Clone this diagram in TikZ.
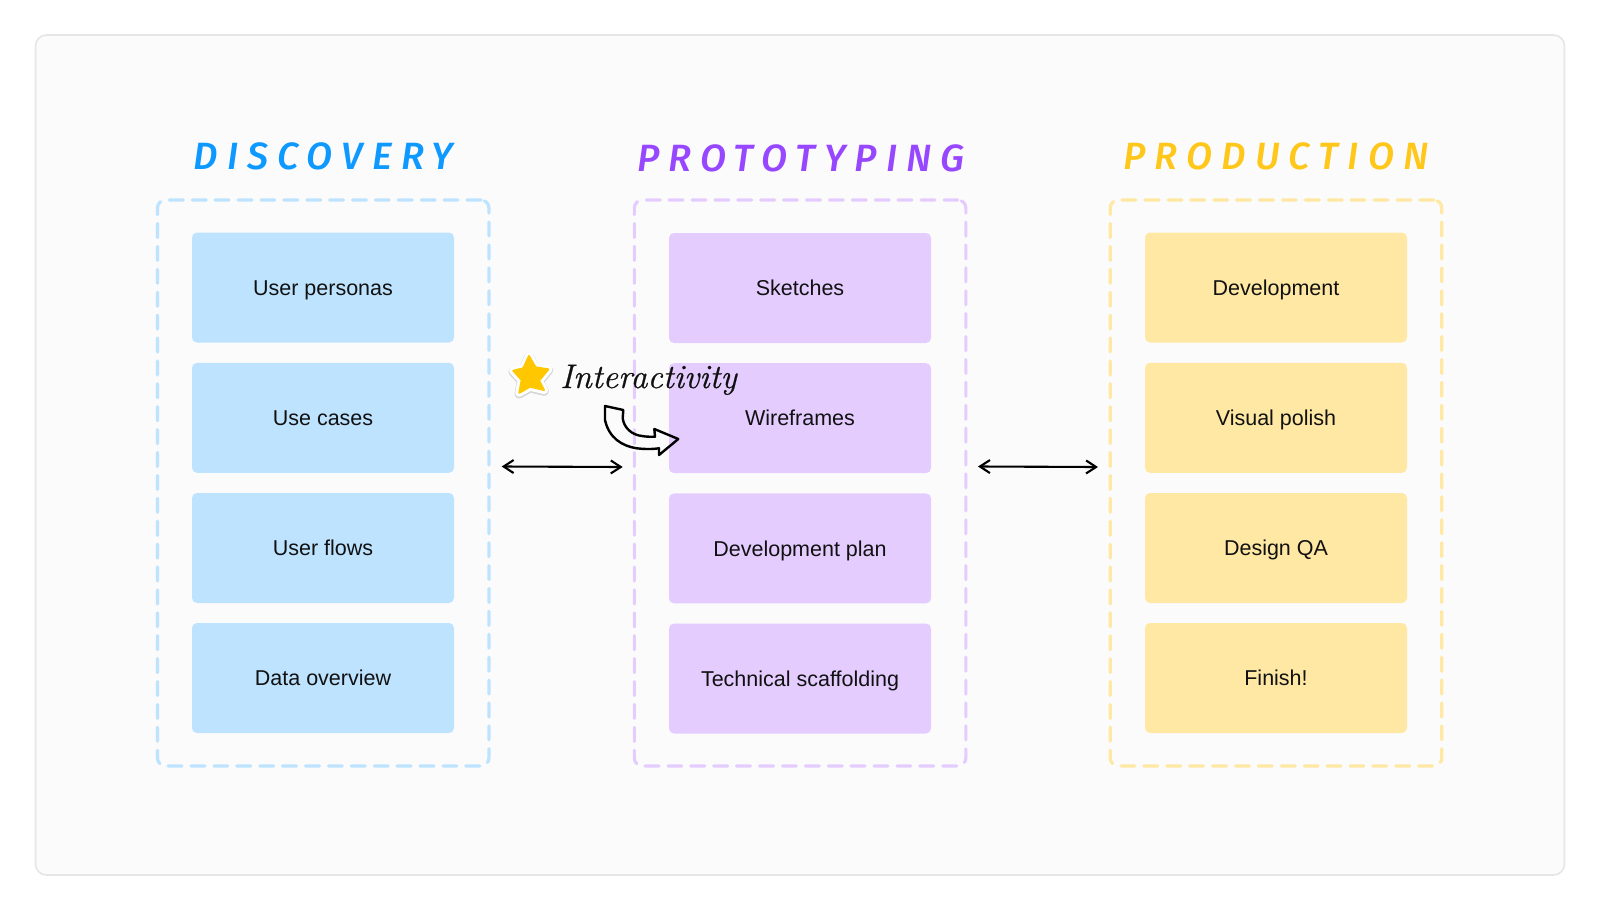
\documentclass[tikz,border=0pt]{standalone}
\usepackage{fontspec}
\usetikzlibrary{arrows.meta}
\setmainfont{Liberation Sans}
\newfontfamily\handfont[LetterSpace=24]{Fira Sans Medium}
\newfontfamily\notefont[ItalicFeatures={FakeBold=0.6}]{Latin Modern Roman}
\definecolor{panelbg}{HTML}{FBFBFB}
\definecolor{panelln}{HTML}{E6E6E6}
\definecolor{bluecard}{HTML}{BDE3FF}
\definecolor{violetcard}{HTML}{E4CCFF}
\definecolor{yellowcard}{HTML}{FFE8A3}
\definecolor{bluetitle}{HTML}{0D99FF}
\definecolor{violettitle}{HTML}{9747FF}
\definecolor{yellowtitle}{HTML}{FFC71A}
\definecolor{starfill}{HTML}{FFC700}
\definecolor{inkc}{HTML}{111111}
\tikzset{
  x=1pt,y=-1pt,
  panel/.style={draw=panelln,fill=panelbg,line width=1.6pt,rounded corners=11pt,minimum width=1529pt,minimum height=840pt,inner sep=0pt,outer sep=0pt},
  dashbox/.style={line width=3.2pt,line cap=round,dash pattern=on 14pt off 8.9pt,rounded corners=8pt,minimum width=331.5pt,minimum height=566pt,inner sep=0pt,outer sep=0pt},
  card/.style={rounded corners=5pt,minimum width=262pt,minimum height=110pt,inner sep=0pt,outer sep=0pt,text=inkc,text height=15.5pt,text depth=0pt,font=\fontsize{21.5}{25}\selectfont},
  heading/.style={inner sep=0pt,font=\handfont\itshape\fontsize{38}{42}\selectfont},
  link/.style={draw=black,line width=2.1pt,{Straight Barb[length=10pt,width=13pt]}-{Straight Barb[length=10pt,width=13pt]}},
  swoosh/.style={draw=black,line width=2.4pt,line join=round},
}
\begin{document}
\begin{tikzpicture}
\useasboundingbox (0,0) rectangle (1600,910);
\fill[white] (0,0) rectangle (1600,910);
\node[panel] (bg) at (800,455) {};

\node[dashbox,draw=bluecard]   (boxa) at (323.2,483) {};
\node[dashbox,draw=violetcard] (boxb) at (800.1,483) {};
\node[dashbox,draw=yellowcard] (boxc) at (1276,483) {};

\node[heading,text=bluetitle,anchor=base]   (ta) at (323.5,169) {DISCOVERY};
\node[heading,text=violettitle,anchor=base] (tb) at (801,171) {PROTOTYPING};
\node[heading,text=yellowtitle,anchor=base] (tc) at (1276,169) {PRODUCTION};

\node[card,fill=bluecard] (a1) at (323,287.5) {User personas};
\node[card,fill=bluecard] (a2) at (323,417.8) {Use cases};
\node[card,fill=bluecard] (a3) at (323,548) {User flows};
\node[card,fill=bluecard] (a4) at (323,678) {Data overview};

\node[card,fill=violetcard] (b1) at (800,288) {Sketches};
\node[card,fill=violetcard] (b2) at (800,418.2) {Wireframes};
\node[card,fill=violetcard] (b3) at (800,548.4) {Development plan};
\node[card,fill=violetcard] (b4) at (800,678.5) {Technical scaffolding};

\node[card,fill=yellowcard] (c1) at (1276,287.5) {Development};
\node[card,fill=yellowcard] (c2) at (1276,417.8) {Visual polish};
\node[card,fill=yellowcard] (c3) at (1276,548) {Design QA};
\node[card,fill=yellowcard] (c4) at (1276,678) {Finish!};

\coordinate (l1) at (501.7,466.5);
\coordinate (l2) at (622.7,467);
\coordinate (r1) at (978,466.5);
\coordinate (r2) at (1098,467);
\draw[link] (l1) -- (l2);
\draw[link] (r1) -- (r2);

% star sticker
\def\starpath{(529,356) -- (535.5,367.3) -- (548.3,369.3) -- (539,380.7) -- (544,390) -- (530,386.7) -- (519.3,392.7) -- (521.7,380) -- (513.3,370.7) -- (523.3,368.3) -- cycle}
\draw[black!16,line width=9.5pt,line join=round] [yshift=-1pt] \starpath;
\draw[white,line width=8pt,line join=round] \starpath;
\fill[starfill,draw=starfill,line width=2pt,line join=round] \starpath;

\node[anchor=base west,inner sep=0pt,text=inkc,font=\notefont\itshape\fontsize{34}{36}\selectfont] (note) at (560,388) {Interactivity};

\draw[swoosh] (605,406) -- (623.3,410) -- (622.7,418.3)
  .. controls (624,428) and (632,435) .. (642,436)
  .. controls (646,436.8) and (651,436.8) .. (655,436.7)
  -- (654.3,429) -- (678.3,439) -- (659,455) -- (659,448.3)
  .. controls (650,449.5) and (643,449) .. (636.7,448.3)
  .. controls (622,446) and (609,438) .. (605,420) -- cycle;
\end{tikzpicture}
\end{document}
